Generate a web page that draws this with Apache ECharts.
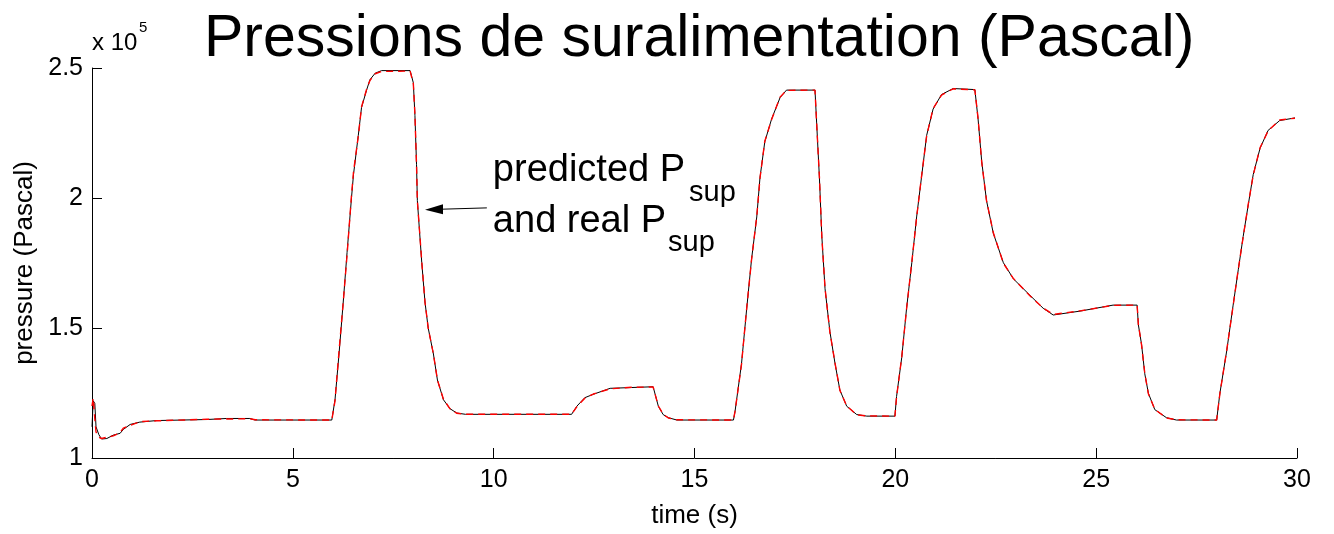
<!DOCTYPE html>
<html><head><meta charset="utf-8">
<script src="https://cdn.jsdelivr.net/npm/echarts@6/dist/echarts.min.js"></script>
<style>html,body{margin:0;padding:0;background:#fff}#c{width:1334px;height:534px}</style>
</head><body><div id="c"></div>
<script>
// ---- data (pressure in units of 10^5 Pa) ----
const titleText = 'Pressions de suralimentation (Pascal)';
const xAxisName = 'time (s)';
const yAxisName = 'pressure (Pascal)';
const xTicks = [0, 5, 10, 15, 20, 25, 30];
const yTicks = [1, 1.5, 2, 2.5];
const timeS = [
  0.00, 0.03, 0.07, 0.10, 0.17, 0.24, 0.37, 0.53, 0.70, 0.78, 0.95, 1.19, 1.61, 2.86, 3.35, 3.93, 4.06, 5.97,
  6.05, 6.15, 6.25, 6.35, 6.46, 6.51, 6.63, 6.71, 6.84, 6.92, 7.05, 7.21, 7.92,
  8.00, 8.04, 8.08, 8.10, 8.21, 8.29, 8.37, 8.50, 8.60, 8.75, 8.91, 9.08, 9.30, 11.94,
  12.07, 12.27, 12.48, 12.90, 13.43, 13.97, 14.10, 14.22, 14.35, 14.56, 15.97,
  16.01, 16.17, 16.30, 16.42, 16.55, 16.63, 16.75, 16.92, 17.13, 17.29, 18.00,
  18.04, 18.11, 18.17, 18.25, 18.37, 18.50, 18.62, 18.79, 19.04, 19.29, 19.99,
  20.03, 20.16, 20.28, 20.41, 20.53, 20.65, 20.78, 20.94, 21.15, 21.44, 21.98,
  22.06, 22.15, 22.27, 22.44, 22.69, 22.94, 23.35, 23.68, 23.93, 24.60, 25.42, 26.02,
  26.05, 26.13, 26.21, 26.30, 26.46, 26.75, 27.00, 28.00,
  28.08, 28.25, 28.41, 28.54, 28.66, 28.79, 28.91, 29.08, 29.28, 29.57, 29.95
];
const realP = [
  1.12, 1.22, 1.21, 1.12, 1.09, 1.073, 1.075, 1.088, 1.095, 1.110, 1.129, 1.138, 1.144, 1.148, 1.152, 1.152, 1.146, 1.146,
  1.224, 1.40, 1.59, 1.79, 2.00, 2.09, 2.241, 2.348, 2.417, 2.455, 2.480, 2.490, 2.490,
  2.443, 2.317, 2.128, 1.99, 1.751, 1.60, 1.50, 1.40, 1.30, 1.224, 1.19, 1.173, 1.168, 1.168,
  1.199, 1.232, 1.245, 1.268, 1.271, 1.274, 1.199, 1.167, 1.155, 1.146, 1.146,
  1.18, 1.362, 1.575, 1.764, 1.927, 2.078, 2.216, 2.304, 2.386, 2.415, 2.415,
  2.292, 2.078, 1.852, 1.651, 1.487, 1.362, 1.261, 1.199, 1.167, 1.161, 1.161,
  1.236, 1.387, 1.576, 1.751, 1.927, 2.078, 2.241, 2.342, 2.398, 2.421, 2.417,
  2.304, 2.141, 1.99, 1.864, 1.751, 1.689, 1.626, 1.576, 1.550, 1.565, 1.588, 1.588,
  1.513, 1.437, 1.324, 1.249, 1.186, 1.155, 1.146, 1.146,
  1.249, 1.412, 1.588, 1.726, 1.852, 1.977, 2.09, 2.191, 2.26, 2.298, 2.308
];
const predictedP = [
  1.20, 1.23, 1.15, 1.10, 1.08, 1.075, 1.080, 1.085, 1.098, 1.115, 1.125, 1.140, 1.143, 1.149, 1.150, 1.151, 1.147, 1.146,
  1.220, 1.41, 1.59, 1.78, 2.01, 2.10, 2.238, 2.350, 2.420, 2.452, 2.478, 2.487, 2.488,
  2.440, 2.320, 2.125, 1.99, 1.755, 1.60, 1.50, 1.40, 1.30, 1.226, 1.19, 1.172, 1.168, 1.168,
  1.197, 1.230, 1.246, 1.266, 1.272, 1.273, 1.200, 1.168, 1.154, 1.147, 1.146,
  1.18, 1.360, 1.577, 1.762, 1.929, 2.076, 2.218, 2.302, 2.388, 2.414, 2.415,
  2.290, 2.080, 1.850, 1.653, 1.485, 1.364, 1.260, 1.200, 1.166, 1.162, 1.161,
  1.234, 1.389, 1.574, 1.753, 1.925, 2.080, 2.239, 2.344, 2.396, 2.420, 2.416,
  2.306, 2.139, 1.99, 1.866, 1.749, 1.690, 1.624, 1.577, 1.552, 1.566, 1.587, 1.588,
  1.515, 1.435, 1.326, 1.247, 1.187, 1.154, 1.147, 1.146,
  1.247, 1.414, 1.586, 1.728, 1.850, 1.979, 2.088, 2.193, 2.258, 2.300, 2.307
];
const annotationLines = ['predicted P', 'and real P'];
const annotationSub = 'sup';
const exponentText = 'x 10';
const exponentSup = '5';

const FONT = "'Liberation Sans', Arial, Helvetica, sans-serif";
const chart = echarts.init(document.getElementById('c'), null, {renderer: 'canvas'});
const realData = timeS.map((t, i) => [t, realP[i]]);
const predData = timeS.map((t, i) => [t, predictedP[i]]);

chart.setOption({
  animation: false,
  backgroundColor: '#fff',
  title: {
    text: titleText, left: 204, top: 10, padding: 0,
    textStyle: {fontFamily: FONT, fontSize: 59, fontWeight: 'normal', color: '#000'}
  },
  grid: {left: 92, right: 37, top: 68, bottom: 68, containLabel: false},
  xAxis: {
    type: 'value', min: xTicks[0], max: xTicks[xTicks.length - 1], interval: 5,
    name: xAxisName, nameLocation: 'middle', nameGap: 45,
    nameTextStyle: {fontFamily: FONT, fontSize: 26, color: '#000'},
    axisLine: {show: true, onZero: false, lineStyle: {color: '#000', width: 1}},
    axisTick: {show: true, inside: true, length: 10, lineStyle: {color: '#000'}},
    axisLabel: {fontFamily: FONT, fontSize: 25, color: '#000', margin: 10},
    splitLine: {show: false}
  },
  yAxis: {
    type: 'value', min: yTicks[0], max: yTicks[yTicks.length - 1], interval: 0.5,
    name: yAxisName, nameLocation: 'middle', nameGap: 45,
    nameTextStyle: {fontFamily: FONT, fontSize: 26, color: '#000'},
    axisLine: {show: true, lineStyle: {color: '#000', width: 1}},
    axisTick: {show: true, inside: true, length: 10, lineStyle: {color: '#000'}},
    axisLabel: {fontFamily: FONT, fontSize: 25, color: '#000', margin: 9},
    splitLine: {show: false}
  },
  series: [
    {
      name: 'real', type: 'line', data: realData, showSymbol: false, symbol: 'none',
      lineStyle: {color: '#000', width: 1}, z: 2
    },
    {
      name: 'predicted', type: 'line', data: predData, showSymbol: false, symbol: 'none',
      lineStyle: {color: '#ff0000', width: 1.4, type: [7, 5]}, z: 3
    }
  ]
});

function px(t, v) { return chart.convertToPixel({gridIndex: 0}, [t, v]); }
const ctx = document.createElement('canvas').getContext('2d');
function textW(s, size) { ctx.font = size + 'px ' + FONT; return ctx.measureText(s).width; }
const a0 = px(9.83, 1.962), a1 = px(8.29, 1.955);
const headLen = 18, headHalf = 5;
const bx = a1[0] + headLen, by = a1[1] + (a0[1] - a1[1]) * headLen / (a0[0] - a1[0]);
const MAIN = 38, SUB = 29;
const l1 = px(9.98, 2.055), l2 = px(9.98, 1.859);   // baselines of the two lines
const ex = px(0, 2.5);
function txt(x, baseline, s, size) {
  return {type: 'text', x: x, y: baseline - 0.3465 * size, style: {text: s, fill: '#000', fontFamily: FONT, fontSize: size,
    align: 'left', verticalAlign: 'middle', textAlign: 'left', textVerticalAlign: 'middle'}};
}
chart.setOption({
  graphic: [
    {type: 'line', shape: {x1: a0[0], y1: a0[1], x2: bx, y2: by}, style: {stroke: '#000', lineWidth: 1}},
    {type: 'polygon', shape: {points: [[a1[0], a1[1]], [bx, by - headHalf], [bx, by + headHalf]]}, style: {fill: '#000'}},
    txt(l1[0], l1[1], annotationLines[0], MAIN),
    txt(l1[0] + textW(annotationLines[0], MAIN) + 4, l1[1] + 19, annotationSub, SUB),
    txt(l2[0], l2[1], annotationLines[1], MAIN),
    txt(l2[0] + textW(annotationLines[1], MAIN) + 2, l2[1] + 18, annotationSub, SUB),
    txt(ex[0], ex[1] - 16, exponentText, 24),
    txt(ex[0] + 47, ex[1] - 35, exponentSup, 15)
  ]
});
</script>
</body></html>
